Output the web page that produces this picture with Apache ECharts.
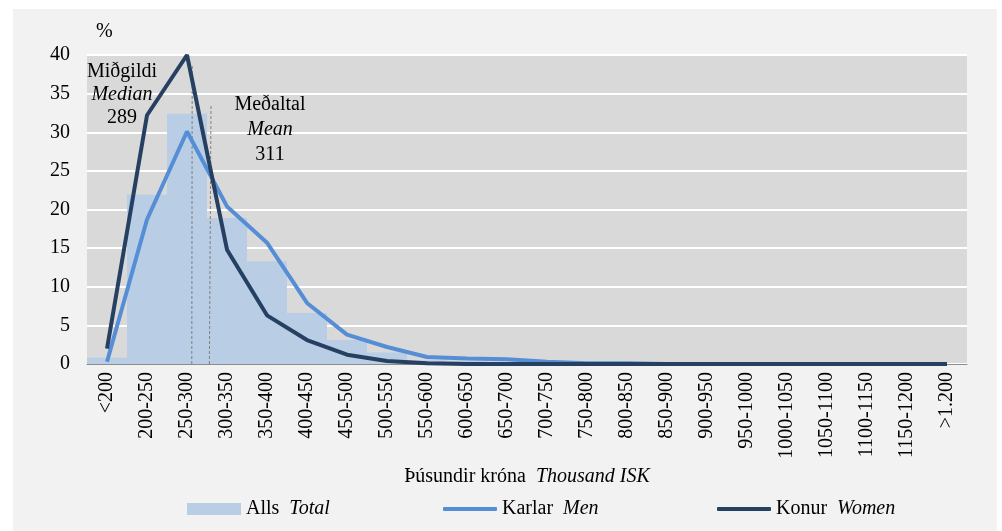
<!DOCTYPE html>
<html>
<head>
<meta charset="utf-8">
<script src="https://cdn.jsdelivr.net/npm/echarts@6/dist/echarts.min.js"></script>
<style>
  html, body { margin: 0; padding: 0; background: #fff; }
  #chart { width: 1002px; height: 531px; }
</style>
</head>
<body>
<div id="chart"></div>
<script>
// launagreiðslur eftir bilum, %
var categories = ['<200', '200-250', '250-300', '300-350', '350-400', '400-450', '450-500',
  '500-550', '550-600', '600-650', '650-700', '700-750', '750-800', '800-850', '850-900',
  '900-950', '950-1000', '1000-1050', '1050-1100', '1100-1150', '1150-1200', '>1.200'];
var totalValues = [0.8, 21.9, 32.4, 18.9, 13.3, 6.6, 3.1, 1.5, 0.5, 0.4, 0.3, 0.2, 0.1, 0.1, 0, 0, 0, 0, 0, 0, 0, 0];
var menValues = [0.3, 18.7, 30.1, 20.4, 15.7, 7.9, 3.8, 2.2, 0.9, 0.7, 0.6, 0.3, 0.1, 0.1, 0, 0, 0, 0, 0, 0, 0, 0];
var womenValues = [2.0, 32.2, 40.0, 14.8, 6.3, 3.1, 1.2, 0.4, 0.1, 0, 0, 0, 0, 0, 0, 0, 0, 0, 0, 0, 0, 0];
var yTicks = [0, 5, 10, 15, 20, 25, 30, 35, 40];

// miðgildi og meðaltal: staða á flokkaás og hæð línu
var medianLine = [[2.62, 0], [2.63, 38.8]];
var meanLine = [[3.06, 0], [3.1, 33.4]];

var serif = '"Liberation Serif", "Times New Roman", serif';
var fs = 20;

var chart = echarts.init(document.getElementById('chart'));

function legendFor(name, label, italic, left, icon, h) {
  return {
    data: [{ name: name, icon: icon }],
    left: left,
    top: 494,
    itemWidth: 54,
    itemHeight: h,
    itemGap: 0,
    formatter: function () { return '{a|' + label + '}  {b|' + italic + '}'; },
    textStyle: {
      fontFamily: serif, fontSize: fs, color: '#000',
      rich: {
        a: { fontFamily: serif, fontSize: fs, color: '#000' },
        b: { fontFamily: serif, fontSize: fs, color: '#000', fontStyle: 'italic' }
      }
    }
  };
}

var option = {
  backgroundColor: '#fff',
  animation: false,
  textStyle: { fontFamily: serif },
  graphic: [
    { type: 'rect', z: -10, shape: { x: 13, y: 9, width: 984, height: 522 }, style: { fill: '#f2f2f2' } },
    { type: 'text', left: 96, top: 22, style: { text: '%', font: fs + 'px ' + serif, fill: '#000' } },
    {
      type: 'text', z: 20, x: 122, y: 60,
      style: {
        text: '{a|Miðgildi}\n{b|Median}\n{a|289}',
        align: 'center',
        rich: {
          a: { fontFamily: serif, fontSize: fs, lineHeight: 23, color: '#000', align: 'center' },
          b: { fontFamily: serif, fontSize: fs, lineHeight: 23, color: '#000', fontStyle: 'italic', align: 'center' }
        }
      }
    },
    {
      type: 'text', z: 20, x: 270, y: 92,
      style: {
        text: '{a|Meðaltal}\n{b|Mean}\n{a|311}',
        align: 'center',
        rich: {
          a: { fontFamily: serif, fontSize: fs, lineHeight: 25, color: '#000', align: 'center' },
          b: { fontFamily: serif, fontSize: fs, lineHeight: 25, color: '#000', fontStyle: 'italic', align: 'center' }
        }
      }
    }
  ],
  legend: [
    legendFor('Alls', 'Alls', 'Total', 182, 'rect', 12),
    legendFor('Karlar', 'Karlar', 'Men', 438, 'roundRect', 4),
    legendFor('Konur', 'Konur', 'Women', 712, 'roundRect', 4)
  ],
  grid: { left: 87, right: 35, top: 55, bottom: 167, show: true, backgroundColor: '#d9d9d9', borderWidth: 0 },
  xAxis: [
    {
      type: 'category',
      data: categories,
      boundaryGap: true,
      name: 'Þúsundir króna  {i|Thousand ISK}',
      nameLocation: 'middle',
      nameGap: 94,
      nameTextStyle: {
        fontFamily: serif, fontSize: fs, color: '#000',
        rich: { i: { fontFamily: serif, fontSize: fs, color: '#000', fontStyle: 'italic' } }
      },
      axisLine: { lineStyle: { color: '#8c8c8c', width: 1 } },
      axisTick: { show: false },
      axisLabel: { rotate: 90, interval: 0, margin: 8, fontFamily: serif, fontSize: fs, color: '#000' }
    },
    { type: 'value', min: 0, max: categories.length, show: false }
  ],
  yAxis: {
    type: 'value',
    min: yTicks[0],
    max: yTicks[yTicks.length - 1],
    interval: 5,
    axisLine: { show: false },
    axisTick: { show: false },
    axisLabel: { margin: 17, fontFamily: serif, fontSize: fs, color: '#000' },
    splitLine: { lineStyle: { color: '#ffffff', width: 2 } }
  },
  series: [
    {
      name: 'Alls',
      type: 'bar',
      data: totalValues,
      barCategoryGap: '0%',
      itemStyle: { color: '#b9cde5' }
    },
    {
      name: 'median',
      type: 'line',
      xAxisIndex: 1,
      data: medianLine,
      symbol: 'none',
      silent: true,
      z: 5,
      lineStyle: { color: '#7f7f7f', width: 1, type: [3, 2] }
    },
    {
      name: 'mean',
      type: 'line',
      xAxisIndex: 1,
      data: meanLine,
      symbol: 'none',
      silent: true,
      z: 5,
      lineStyle: { color: '#7f7f7f', width: 1, type: [3, 2] }
    },
    {
      name: 'Karlar',
      type: 'line',
      data: menValues,
      symbol: 'none',
      z: 6,
      itemStyle: { color: '#558ed5' },
      lineStyle: { color: '#558ed5', width: 4 }
    },
    {
      name: 'Konur',
      type: 'line',
      data: womenValues,
      symbol: 'none',
      z: 7,
      itemStyle: { color: '#254061' },
      lineStyle: { color: '#254061', width: 4 }
    }
  ]
};

chart.setOption(option);
</script>
</body>
</html>
